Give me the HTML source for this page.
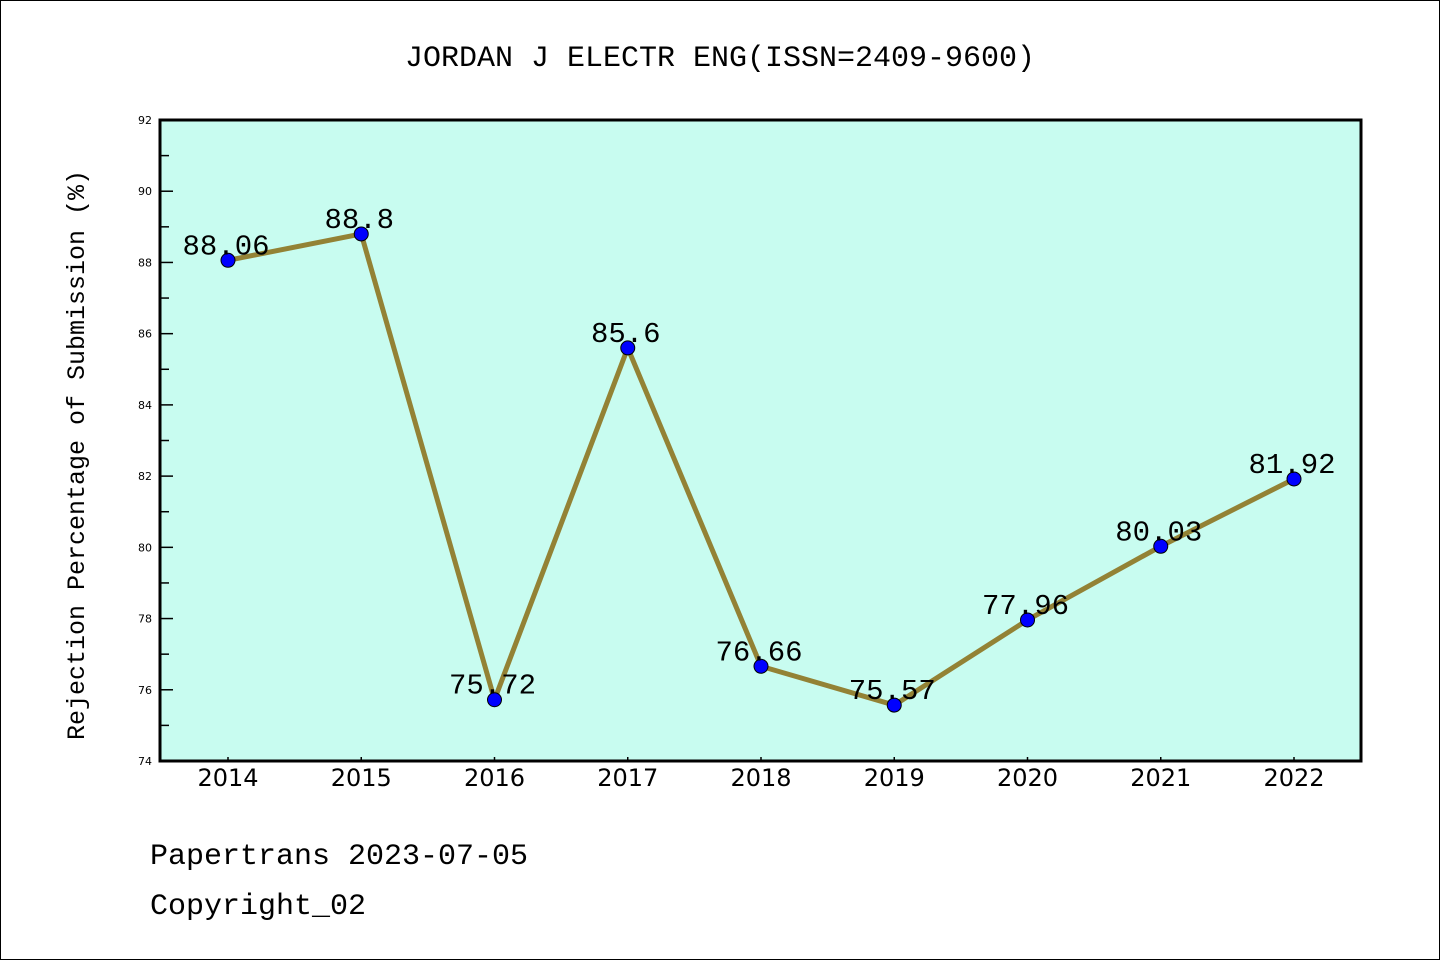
<!DOCTYPE html>
<html><head><meta charset="utf-8"><style>
html,body{margin:0;padding:0;background:#fff;}
svg{display:block;}
text{font-family:"Liberation Mono","DejaVu Sans Mono",monospace;}
.sans{font-family:"DejaVu Sans","Liberation Sans",sans-serif;}
</style></head><body>
<svg id="chart" width="1440" height="960" xmlns="http://www.w3.org/2000/svg">
<rect x="0.5" y="0.5" width="1439" height="959" fill="#fff" stroke="#000"/>
<text x="720" y="66" font-size="30" text-anchor="middle">JORDAN J ELECTR ENG(ISSN=2409-9600)</text>
<rect x="160" y="120" width="1201" height="641" fill="#c8fcf0"/>
<g id="ticks"></g>
<g id="series"></g>
<rect x="160" y="120" width="1201" height="641" fill="none" stroke="#000" stroke-width="3"/>
<text transform="translate(84,455) rotate(-90)" font-size="25" text-anchor="middle">Rejection Percentage of Submission (%)</text>
<text x="150" y="864" font-size="30">Papertrans 2023-07-05</text>
<text x="150" y="914" font-size="30">Copyright_02</text>
</svg>
<script>
const years = ['2014','2015','2016','2017','2018','2019','2020','2021','2022'];
const rates = [88.06, 88.8, 75.72, 85.6, 76.66, 75.57, 77.96, 80.03, 81.92];
const labels = ['88.06','88.8','75.72','85.6','76.66','75.57','77.96','80.03','81.92'];
const yTicks = [74,76,78,80,82,84,86,88,90,92];
const NS='http://www.w3.org/2000/svg';
const yMin=74,yMax=92,plotTop=120,plotBottom=761;
function ys(v){return plotBottom-(v-yMin)/(yMax-yMin)*(plotBottom-plotTop);}
function xs(i){return 228+i*(1294-228)/(years.length-1);}
function mk(tag,attrs,parent){const e=document.createElementNS(NS,tag);for(const k in attrs)e.setAttribute(k,attrs[k]);parent.appendChild(e);return e;}
const tg=document.getElementById('ticks'), sg=document.getElementById('series');
yTicks.forEach(v=>{
  const y=ys(v);
  const l=mk('line',{x1:160,x2:173,y1:y,y2:y,stroke:'#000','stroke-width':1.5},tg);
  
  
  const t=mk('text',{x:152,y:y+4,'font-size':11,'text-anchor':'end','class':'sans'},tg);
  t.textContent=v;
  
  
  if(v<yMax){const m=ys(v+1);
    const ml=mk('line',{x1:160,x2:169,y1:m,y2:m,stroke:'#000','stroke-width':1.5},tg);
    
    }
});
years.forEach((yr,i)=>{
  const x=xs(i);
  const l=mk('line',{x1:x,x2:x,y1:757,y2:761,stroke:'#000','stroke-width':1.5},tg);
  
  
  const t=mk('text',{x:x,y:786,'font-size':24,'text-anchor':'middle','class':'sans'},tg);
  t.textContent=yr;
  
  
});
const pl=mk('polyline',{points:rates.map((v,i)=>xs(i)+','+ys(v)).join(' '),fill:'none',stroke:'#938235','stroke-width':5,'stroke-linejoin':'round'},sg);


rates.forEach((v,i)=>{
  const c=mk('circle',{cx:xs(i),cy:ys(v),r:7,fill:'#0000ff',stroke:'#000','stroke-width':1},sg);
  
  
});
rates.forEach((v,i)=>{
  const t=mk('text',{x:xs(i)-2,y:ys(v)-6,'font-size':29,'text-anchor':'middle'},sg);
  t.textContent=labels[i];
  
  
});
</script>
</body></html>
